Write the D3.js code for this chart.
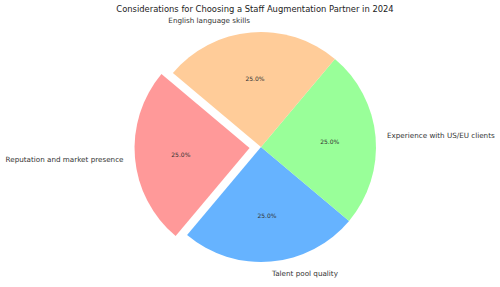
<!DOCTYPE html>
<html>
<head>
<meta charset="utf-8">
<script src="https://cdn.jsdelivr.net/npm/d3@7"></script>
<style>
  body { margin: 0; background: #fff; }
  svg { font-family: "DejaVu Sans", sans-serif; }
</style>
</head>
<body>
<svg id="chart" width="500" height="287"></svg>
<script>
// slices, in matplotlib order (counter-clockwise from the start angle)
let categories = ["Reputation and market presence", "Talent pool quality", "Experience with US/EU clients", "English language skills"];
let values = [25, 25, 25, 25];
let colors = ["#ff9999", "#66b3ff", "#99ff99", "#ffcc99"];
let explode = [0.1, 0, 0, 0];

let W = 500, H = 287;
let cx = 261, cy = 147, r = 115;
let startDeg = 140; // matplotlib startangle, ccw from 3 o'clock

let svg = d3.select("#chart");

svg.append("text")
   .attr("x", 255)
   .attr("y", 12)
   .attr("text-anchor", "middle")
   .style("font-size", "8.4px")
   .style("fill", "#222")
   .text("Considerations for Choosing a Staff Augmentation Partner in 2024");

// d3 angles are clockwise from 12 o'clock
let a0 = (90 - startDeg) * Math.PI / 180;
let pie = d3.pie().sort(null).startAngle(a0).endAngle(a0 - 2 * Math.PI);
let arcs = pie(values);

let arc = d3.arc().innerRadius(0).outerRadius(r);
let total = d3.sum(values);

let g = svg.selectAll("g.slice")
  .data(arcs)
  .enter()
  .append("g")
  .attr("class", "slice")
  .attr("transform", function(d, i){
    let mid = (d.startAngle + d.endAngle) / 2;
    let off = explode[i] * r;
    return "translate(" + (cx + Math.sin(mid) * off) + "," + (cy - Math.cos(mid) * off) + ")";
  });

g.append("path")
  .attr("d", arc)
  .style("fill", function(d, i){ return colors[i]; });

// percentages at 0.6 r
g.append("text")
  .attr("x", function(d){ return Math.sin((d.startAngle + d.endAngle) / 2) * r * 0.6; })
  .attr("y", function(d){ return -Math.cos((d.startAngle + d.endAngle) / 2) * r * 0.6; })
  .attr("text-anchor", "middle")
  .attr("dominant-baseline", "central")
  .style("font-size", "6px")
  .style("fill", "#333")
  .text(function(d){ return (d.value / total * 100).toFixed(1) + "%"; });

// category labels at 1.1 r
g.append("text")
  .attr("x", function(d){ return Math.sin((d.startAngle + d.endAngle) / 2) * r * 1.1; })
  .attr("y", function(d){ return -Math.cos((d.startAngle + d.endAngle) / 2) * r * 1.1; })
  .attr("text-anchor", function(d){ return Math.sin((d.startAngle + d.endAngle) / 2) < 0 ? "end" : "start"; })
  .attr("dominant-baseline", "central")
  .style("font-size", "7.2px")
  .style("fill", "#333")
  .text(function(d, i){ return categories[i]; });
</script>
</body>
</html>
